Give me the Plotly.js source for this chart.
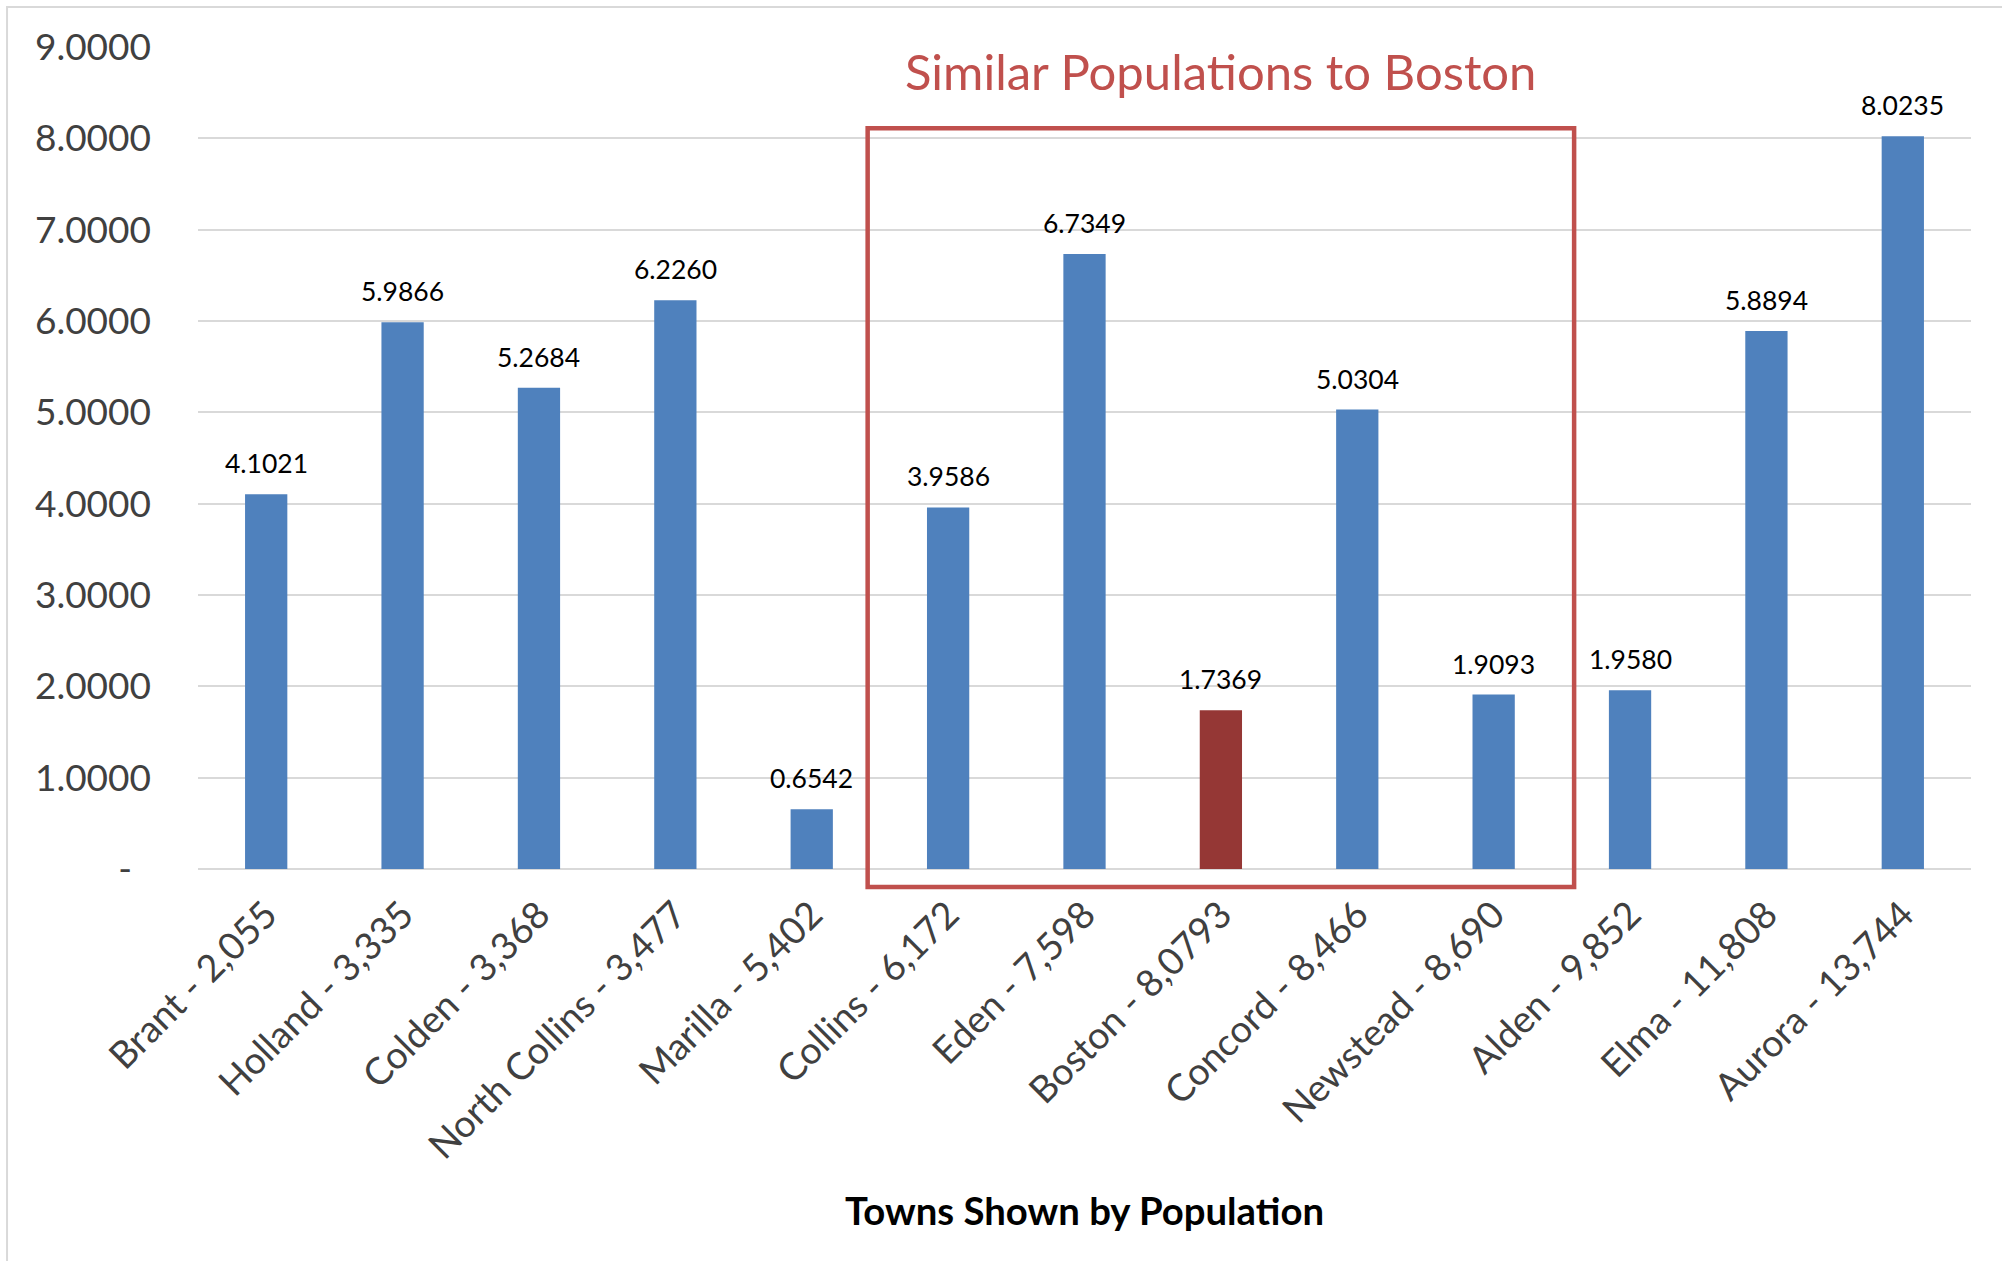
<!DOCTYPE html>
<html>
<head>
<meta charset="utf-8">
<script src="https://cdn.plot.ly/plotly-3.0.1.min.js"></script>
<style>
  html, body { margin: 0; padding: 0; background: #ffffff; }
  #chart { width: 2002px; height: 1261px; }
</style>
</head>
<body>
<div id="chart"></div>
<script>
// Towns, labelled with their population
const towns = [
  "Brant - 2,055", "Holland - 3,335", "Colden - 3,368", "North Collins - 3,477",
  "Marilla - 5,402", "Collins - 6,172", "Eden - 7,598", "Boston - 8,0793",
  "Concord - 8,466", "Newstead - 8,690", "Alden - 9,852", "Elma - 11,808",
  "Aurora - 13,744"
];
const values = [
  4.1021, 5.9866, 5.2684, 6.2260, 0.6542, 3.9586, 6.7349,
  1.7369, 5.0304, 1.9093, 1.9580, 5.8894, 8.0235
];
const highlightTown = "Boston - 8,0793";
const similarGroup = ["Collins - 6,172", "Newstead - 8,690"]; // first and last town in the box
const yTicks = [0, 1, 2, 3, 4, 5, 6, 7, 8, 9];
const boxTitle = "Similar Populations to Boston";
const xTitle = "Towns Shown by Population";

const BLUE = "#4F81BD";
const DARK_RED = "#953735";
const BOX_RED = "#C0504D";
const FONT = "Lato, 'Open Sans', sans-serif";
const Y_MAX = yTicks[yTicks.length - 1];

const barColors = towns.map(t => (t === highlightTown ? DARK_RED : BLUE));

const trace = {
  type: "bar",
  x: towns,
  y: values,
  marker: { color: barColors, line: { width: 0 } },
  hoverinfo: "skip"
};

// value labels above each bar
const valueLabels = towns.map((t, i) => ({
  x: t,
  y: values[i],
  xref: "x",
  yref: "y",
  text: values[i].toFixed(4),
  showarrow: false,
  yanchor: "bottom",
  yshift: 13,
  font: { family: FONT, size: 26.5, color: "#000000" }
}));

const firstIdx = towns.indexOf(similarGroup[0]);
const lastIdx = towns.indexOf(similarGroup[1]);
const highlightIdx = towns.indexOf(highlightTown);

// category index / value -> paper fraction, so the outline may run past the axis
const catToPaper = c => (c + 0.5) / towns.length;
const valToPaper = v => v / Y_MAX;

const annotations = valueLabels.concat([
  {
    x: highlightIdx,
    y: 8.74,
    xref: "x",
    yref: "y",
    text: boxTitle,
    showarrow: false,
    xanchor: "center",
    yanchor: "middle",
    font: { family: FONT, size: 49, color: BOX_RED }
  },
  {
    x: 0.5,
    y: valToPaper(-3.73),
    xref: "paper",
    yref: "paper",
    text: "<b>" + xTitle + "</b>",
    showarrow: false,
    xanchor: "center",
    yanchor: "middle",
    font: { family: FONT, size: 38.3, color: "#000000" }
  }
]);

const shapes = [
  // outline round the group of towns with populations close to Boston
  {
    type: "rect",
    xref: "paper", yref: "paper",
    x0: catToPaper(firstIdx - 0.59), x1: catToPaper(lastIdx + 0.59),
    y0: valToPaper(-0.197), y1: valToPaper(8.11),
    line: { color: BOX_RED, width: 4.5 },
    fillcolor: "rgba(0,0,0,0)",
    layer: "above"
  },
  // chart frame
  {
    type: "rect",
    xref: "paper", yref: "paper",
    x0: -0.1077, x1: 1.03,
    y0: -0.5, y1: 1.0487,
    line: { color: "#D9D9D9", width: 2 },
    fillcolor: "rgba(0,0,0,0)",
    layer: "below"
  }
];

const layout = {
  width: 2002,
  height: 1261,
  margin: { l: 198, r: 31, t: 47, b: 392 },
  paper_bgcolor: "#ffffff",
  plot_bgcolor: "#ffffff",
  showlegend: false,
  bargap: 0.69,
  font: { family: FONT, color: "#404040" },
  xaxis: {
    type: "category",
    tickangle: -45,
    tickfont: { family: FONT, size: 37.5, color: "#404040" },
    ticklabelstandoff: 15,
    showgrid: false,
    showline: false,
    ticks: "",
    automargin: false
  },
  yaxis: {
    range: [0, Y_MAX],
    tickvals: yTicks,
    ticktext: yTicks.map(v => (v === 0 ? "-\u00a0\u00a0" : v.toFixed(4))),
    tickfont: { family: FONT, size: 37, color: "#404040" },
    ticklabelstandoff: 46,
    showgrid: true,
    gridcolor: "#D9D9D9",
    gridwidth: 1.8,
    zeroline: true,
    zerolinecolor: "#D9D9D9",
    zerolinewidth: 1.8,
    showline: false,
    ticks: "",
    automargin: false
  },
  annotations: annotations,
  shapes: shapes
};

Plotly.newPlot("chart", [trace], layout, { displayModeBar: false, staticPlot: true });
</script>
</body>
</html>
